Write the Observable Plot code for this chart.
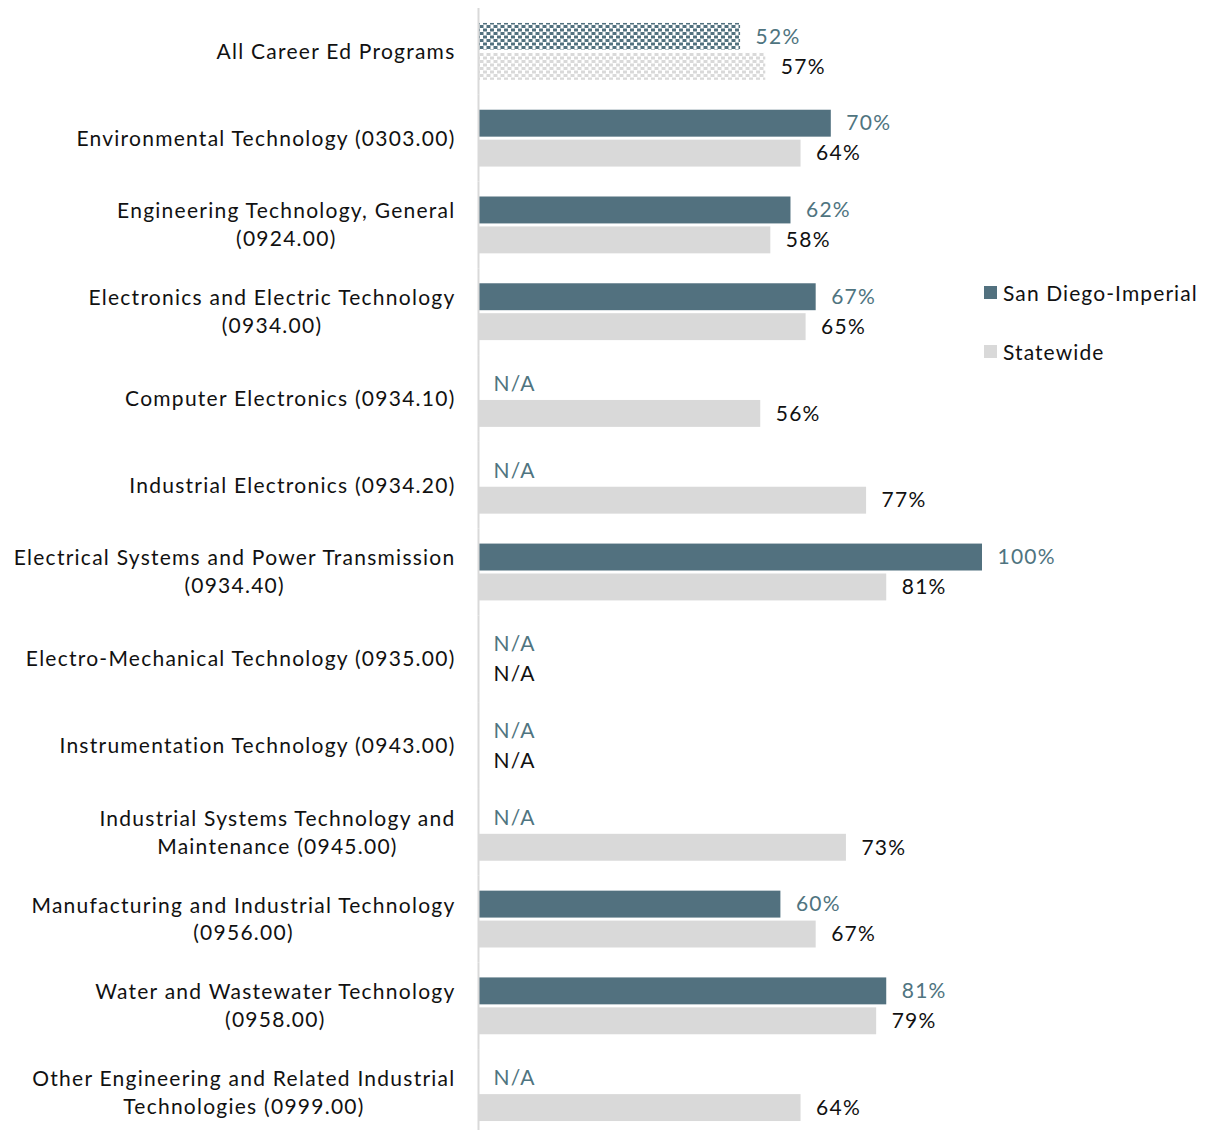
<!DOCTYPE html>
<html>
<head>
<meta charset="utf-8">
<script src="https://cdn.jsdelivr.net/npm/d3@7"></script>
<script src="https://cdn.jsdelivr.net/npm/@observablehq/plot@0.6"></script>
<style>
  body { margin: 0; background: #fff; font-family: Lato, "Noto Sans", sans-serif; }
  #wrap { position: relative; width: 1217px; height: 1130px; overflow: hidden; }
  .legend { position: absolute; left: 984px; font-size: 21px; letter-spacing: 1.1px; color: #111; display: flex; align-items: center; }
  .legend .sw { width: 13px; height: 13px; margin-right: 6px; }
  #chart svg text { letter-spacing: 1.25px; }
</style>
</head>
<body>
<svg width="0" height="0" style="position:absolute">
  <defs>
    <pattern id="patSD" width="7" height="7" patternUnits="userSpaceOnUse">
      <rect width="7" height="7" fill="#ffffff"/>
      <rect x="0" y="0.5" width="4" height="3" fill="#52717f"/>
      <rect x="3.5" y="4" width="4" height="3" fill="#52717f"/>
      <rect x="-3.5" y="4" width="4" height="3" fill="#52717f"/>
    </pattern>
    <pattern id="patST" width="7" height="7" patternUnits="userSpaceOnUse">
      <rect width="7" height="7" fill="#ffffff"/>
      <rect x="0" y="0.5" width="4" height="3" fill="#d9d9d9"/>
      <rect x="3.5" y="4" width="4" height="3" fill="#d9d9d9"/>
      <rect x="-3.5" y="4" width="4" height="3" fill="#d9d9d9"/>
    </pattern>
  </defs>
</svg>
<div id="wrap">
  <div id="chart"></div>
  <div class="legend" style="top:280px"><div class="sw" style="background:#52717f"></div>San Diego-Imperial</div>
  <div class="legend" style="top:339px"><div class="sw" style="background:#d9d9d9"></div>Statewide</div>
</div>
<script>
const categories = [
  "All Career Ed Programs",
  "Environmental Technology (0303.00)",
  "Engineering Technology, General\n(0924.00)",
  "Electronics and Electric Technology\n(0934.00)",
  "Computer Electronics (0934.10)",
  "Industrial Electronics (0934.20)",
  "Electrical Systems and Power Transmission\n(0934.40)",
  "Electro-Mechanical Technology (0935.00)",
  "Instrumentation Technology (0943.00)",
  "Industrial Systems Technology and\nMaintenance (0945.00)",
  "Manufacturing and Industrial Technology\n(0956.00)",
  "Water and Wastewater Technology\n(0958.00)",
  "Other Engineering and Related Industrial\nTechnologies (0999.00)"
];
const seriesNames = ["San Diego-Imperial", "Statewide"];
const sanDiegoImperial = [52, 70, 62, 67, null, null, 100, null, null, null, 60, 81, null];
const statewide = [57, 64, 58, 65, 56, 77, 81, null, null, 73, 67, 79, 64];

const rows = categories.flatMap((c, i) => [
  {cat: c, series: seriesNames[0], value: sanDiegoImperial[i], all: i === 0},
  {cat: c, series: seriesNames[1], value: statewide[i], all: i === 0}
]);
const sd = rows.filter(d => d.series === seriesNames[0]);
const st = rows.filter(d => d.series === seriesNames[1]);
const lab = d => d.value == null ? "N/A" : d.value + "%";

const chart = Plot.plot({
  width: 1217,
  height: 1130,
  marginLeft: 478,
  marginRight: 235,
  marginTop: 8,
  marginBottom: 0,
  style: {fontFamily: "Lato, 'Noto Sans', sans-serif", fontSize: "21px", color: "#111"},
  x: {domain: [0, 100], axis: null},
  y: {domain: seriesNames, paddingInner: 0.1, paddingOuter: 0.5, round: false, axis: null},
  fy: {domain: categories, padding: 0, range: [8, 1136], round: false, label: null},
  marks: [
    Plot.axisFy({anchor: "left", tickSize: 0, tickPadding: 23, dy: -2, label: null, fontSize: 21, lineHeight: 1.33, textAnchor: "end", fill: "#111"}),
    Plot.barX(sd.filter(d => d.value != null && !d.all), {x: "value", y: "series", fy: "cat", fill: "#52717f"}),
    Plot.barX(st.filter(d => d.value != null && !d.all), {x: "value", y: "series", fy: "cat", fill: "#d9d9d9"}),
    Plot.barX(sd.filter(d => d.all), {x: "value", y: "series", fy: "cat", fill: "url(#patSD)"}),
    Plot.barX(st.filter(d => d.all), {x: "value", y: "series", fy: "cat", fill: "url(#patST)"}),
    Plot.ruleX([0], {stroke: "#d9d9d9", strokeWidth: 2}),
    Plot.text(sd, {x: d => d.value ?? 0, y: "series", fy: "cat", text: lab, dx: 15, textAnchor: "start", fill: "#4f7480", fontSize: 21}),
    Plot.text(st, {x: d => d.value ?? 0, y: "series", fy: "cat", text: lab, dx: 15, textAnchor: "start", fill: "#111", fontSize: 21})
  ]
});
document.getElementById("chart").appendChild(chart);

// center multi-line category labels relative to their longest line
chart.querySelectorAll("text").forEach(t => {
  const spans = t.querySelectorAll("tspan");
  if (spans.length > 1) {
    const ws = Array.from(spans, s => s.getComputedTextLength());
    const W = Math.max(...ws);
    spans.forEach((s, i) => {
      const x0 = +(s.getAttribute("x") || 0);
      s.setAttribute("x", x0 - (W - ws[i]) / 2);
    });
  }
});
</script>
</body>
</html>
